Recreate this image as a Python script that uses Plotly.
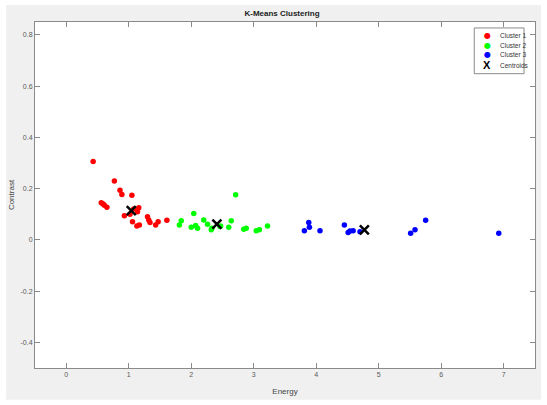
import plotly.graph_objects as go

# ---- data ----
cluster1_energy = [0.43, 0.77, 0.86, 0.89, 1.05, 0.56, 0.59, 0.61, 0.65, 1.16, 1.14, 1.08,
                   1.02, 0.93, 1.06, 1.13, 1.17, 1.30, 1.32, 1.34, 1.43, 1.47, 1.61]
cluster1_contrast = [0.306, 0.230, 0.194, 0.177, 0.174, 0.145, 0.140, 0.135, 0.127, 0.125, 0.110, 0.120,
                     0.100, 0.094, 0.071, 0.054, 0.058, 0.090, 0.077, 0.068, 0.058, 0.071, 0.076]

cluster2_energy = [1.81, 1.84, 2.00, 2.04, 2.07, 2.10, 2.20, 2.26, 2.32, 2.33, 2.46, 2.47,
                   2.60, 2.64, 2.71, 2.84, 2.88, 3.04, 3.09, 3.22]
cluster2_contrast = [0.058, 0.075, 0.049, 0.103, 0.056, 0.045, 0.077, 0.061, 0.039, 0.045, 0.052, 0.054,
                     0.049, 0.075, 0.176, 0.041, 0.045, 0.036, 0.039, 0.054]

cluster3_energy = [3.81, 3.88, 3.89, 4.06, 4.45, 4.51, 4.54, 4.59, 4.70, 5.51, 5.58, 5.75, 6.92]
cluster3_contrast = [0.036, 0.068, 0.049, 0.036, 0.058, 0.029, 0.035, 0.036, 0.032, 0.026, 0.039, 0.076, 0.026]

centroid_energy = [1.04, 2.41, 4.77]
centroid_contrast = [0.114, 0.061, 0.039]

x_ticks = [0, 1, 2, 3, 4, 5, 6, 7]
y_ticks = [-0.4, -0.2, 0, 0.2, 0.4, 0.6, 0.8]
y_tick_labels = ["-0.4", "-0.2", "0", "0.2", "0.4", "0.6", "0.8"]

legend_names = ["Cluster 1", "Cluster 2", "Cluster 3", "Centroids"]
legend_colors = ["#ff0000", "#00ff00", "#0000ff", "#000000"]

FONT = "Liberation Sans, Arial, sans-serif"
W, H = 547, 405
ML, MR, MT, MB = 34, 11, 22, 35
PW, PH = W - ML - MR, H - MT - MB

def px_x(p):
    return (p - ML) / PW

def px_y(p):
    return (H - MB - p) / PH

fig = go.Figure()
for xs, ys, col, name in [
    (cluster1_energy, cluster1_contrast, "#ff0000", "Cluster 1"),
    (cluster2_energy, cluster2_contrast, "#00ff00", "Cluster 2"),
    (cluster3_energy, cluster3_contrast, "#0000ff", "Cluster 3"),
]:
    fig.add_trace(go.Scatter(x=xs, y=ys, mode="markers", name=name,
                             marker=dict(color=col, size=5.5, line=dict(width=0))))

fig.add_trace(go.Scatter(x=centroid_energy, y=centroid_contrast, mode="markers", name="Centroids",
                         marker=dict(symbol="x-thin", size=9, color="black",
                                     line=dict(color="black", width=2.5))))

axis_common = dict(showgrid=False, zeroline=False, showline=True, linecolor="#8a8a8a", linewidth=1,
                   mirror="allticks", ticks="inside", ticklen=5, tickcolor="#8a8a8a",
                   tickfont=dict(family=FONT, size=7, color="#5a5a5a"))

shapes = [
    # grey figure area with thin white frame
    dict(type="rect", xref="paper", yref="paper", x0=px_x(5), x1=px_x(542), y0=px_y(402), y1=px_y(5),
         fillcolor="#f0f0f0", line=dict(width=0), layer="below"),
    dict(type="rect", xref="paper", yref="paper", x0=0, x1=1, y0=0, y1=1,
         fillcolor="white", line=dict(width=0), layer="below"),
    # legend box
    dict(type="rect", xref="paper", yref="paper", x0=px_x(475), x1=px_x(525), y0=px_y(74), y1=px_y(28),
         fillcolor="white", line=dict(color="#8a8a8a", width=1), layer="above"),
]

annotations = []
rows = [35.7, 45.4, 55.1, 65.5]
for name, col, ry in zip(legend_names, legend_colors, rows):
    if name == "Centroids":
        sym = dict(text="<b>X</b>", font=dict(family=FONT, size=11, color=col))
    else:
        sym = dict(text="●", font=dict(family="DejaVu Sans", size=8, color=col))
    annotations.append(dict(xref="paper", yref="paper", x=px_x(488), y=px_y(ry), showarrow=False,
                            xanchor="center", yanchor="middle", **sym))
    annotations.append(dict(xref="paper", yref="paper", x=px_x(498.5), y=px_y(ry), showarrow=False,
                            xanchor="left", yanchor="middle", text=name,
                            font=dict(family=FONT, size=6.5, color="#333333")))

fig.update_layout(
    width=W, height=H,
    margin=dict(l=ML, r=MR, t=MT, b=MB, pad=0),
    paper_bgcolor="white",
    plot_bgcolor="rgba(0,0,0,0)",
    showlegend=False,
    title=dict(text="<b>K-Means Clustering</b>", x=282 / W, xanchor="center",
               y=1 - 13 / H, yanchor="middle", font=dict(family=FONT, size=8, color="#222222")),
    xaxis=dict(range=[-0.5, 7.5], tickvals=x_ticks, ticktext=[str(v) for v in x_ticks],
               title=dict(text="Energy", font=dict(family=FONT, size=8, color="#444444"), standoff=10),
               **axis_common),
    yaxis=dict(range=[-0.5, 0.85], tickvals=y_ticks, ticktext=y_tick_labels,
               title=dict(text="Contrast", font=dict(family=FONT, size=8, color="#444444"), standoff=4),
               **axis_common),
    shapes=shapes,
    annotations=annotations,
)

fig.write_html("out.html")
